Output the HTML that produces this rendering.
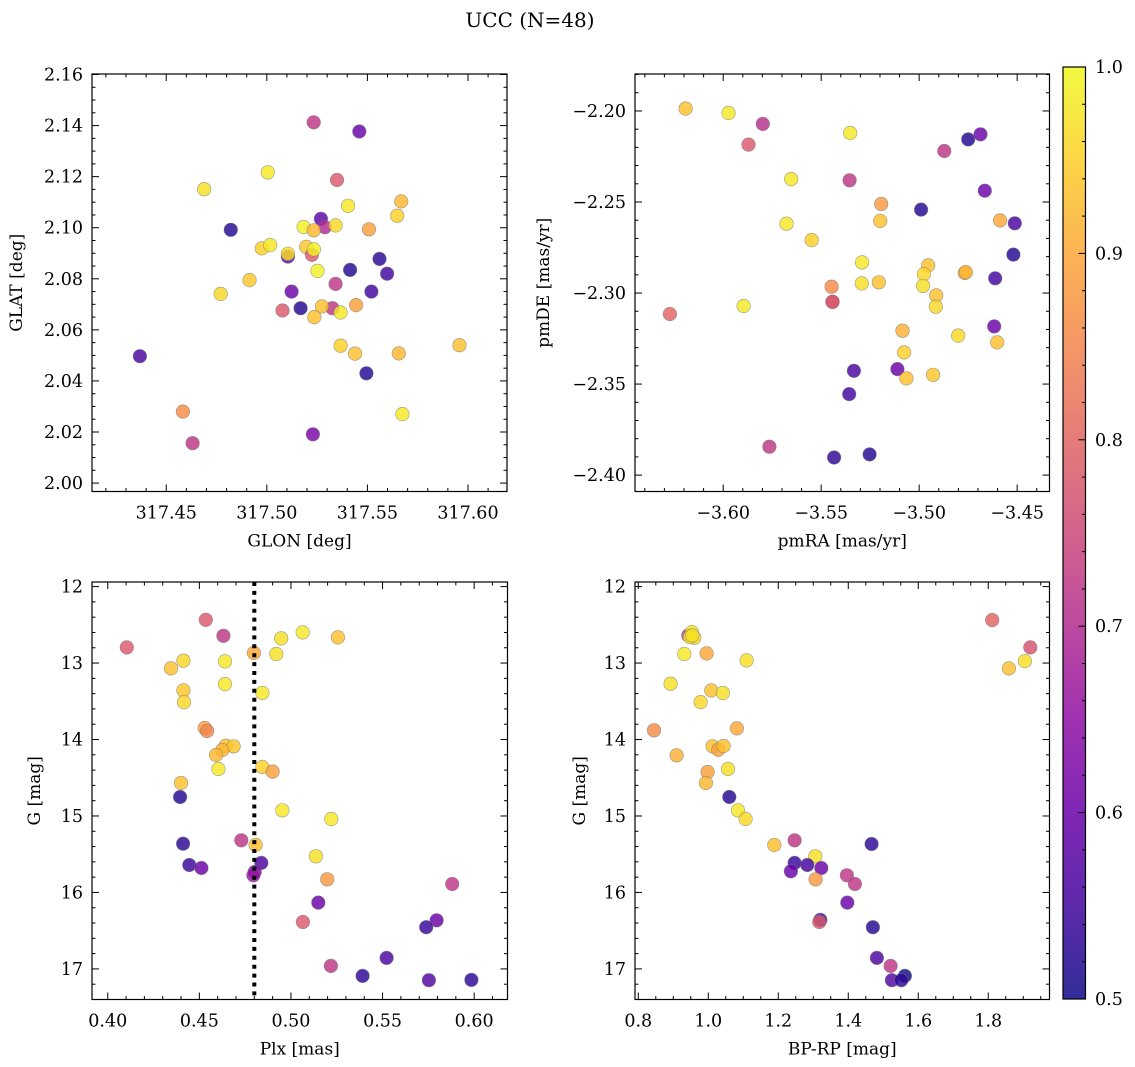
<!DOCTYPE html>
<html><head><meta charset="utf-8">
<style>
html,body{margin:0;padding:0;background:#fff;}
svg{display:block;font-family:"DejaVu Serif","Liberation Serif",serif;}
</style></head>
<body>
<svg id="fig" width="1135" height="1067" viewBox="0 0 1135 1067" xmlns="http://www.w3.org/2000/svg">
<defs>
<linearGradient id="plasma" x1="0" y1="1" x2="0" y2="0">
<stop offset="0" stop-color="#0d0887"/><stop offset="0.1" stop-color="#41049d"/><stop offset="0.2" stop-color="#6a00a8"/><stop offset="0.3" stop-color="#8f0da4"/><stop offset="0.4" stop-color="#b12a90"/><stop offset="0.5" stop-color="#cc4778"/><stop offset="0.6" stop-color="#e16462"/><stop offset="0.7" stop-color="#f2844b"/><stop offset="0.8" stop-color="#fca636"/><stop offset="0.9" stop-color="#fcce25"/><stop offset="1" stop-color="#f0f921"/>
</linearGradient>
</defs>
<text x="530" y="27" font-size="20" text-anchor="middle">UCC (N=48)</text>
</svg>
<script>
// ---- Panel 1: GLON vs GLAT ----
const glon = [317.5233,317.5460,317.5005,317.5349,317.4689,317.5668,317.5404,317.5648,317.5269,317.5289,317.5183,317.5342,317.5233,317.4821,317.5508,317.4975,317.5017,317.5105,317.5105,317.5196,317.5224,317.5234,317.5560,317.5414,317.5252,317.5598,317.4914,317.5342,317.5123,317.5520,317.4771,317.5078,317.5168,317.5326,317.5274,317.5444,317.5367,317.5236,317.5367,317.5439,317.5656,317.5958,317.4369,317.5495,317.4583,317.5674,317.5229,317.4631];
const glat = [2.1413,2.1377,2.1217,2.1187,2.1151,2.1103,2.1086,2.1047,2.1035,2.1002,2.1003,2.1009,2.0990,2.0992,2.0994,2.0919,2.0932,2.0887,2.0898,2.0925,2.0894,2.0915,2.0878,2.0835,2.0831,2.0820,2.0795,2.0780,2.0750,2.0750,2.0741,2.0676,2.0685,2.0685,2.0692,2.0697,2.0668,2.0650,2.0538,2.0507,2.0508,2.0540,2.0497,2.0430,2.0280,2.0270,2.0191,2.0156];
const prob1 = [0.72,0.60,0.98,0.78,0.97,0.92,0.98,0.95,0.58,0.70,0.99,0.96,0.92,0.52,0.89,0.95,0.98,0.58,0.97,0.94,0.78,0.99,0.53,0.52,0.99,0.55,0.94,0.72,0.60,0.55,0.96,0.78,0.52,0.72,0.93,0.89,0.98,0.93,0.95,0.93,0.92,0.93,0.56,0.52,0.86,0.98,0.62,0.72];
// ---- Panel 2: pmRA vs pmDE ----
const pmra = [-3.6192,-3.5973,-3.5798,-3.5871,-3.5352,-3.4750,-3.4687,-3.4872,-3.5653,-3.5355,-3.4665,-3.5194,-3.4990,-3.5199,-3.4587,-3.4512,-3.5677,-3.5549,-3.4519,-3.5291,-3.4954,-3.4976,-3.4767,-3.4762,-3.4612,-3.5447,-3.5293,-3.5206,-3.4980,-3.4913,-3.5442,-3.5442,-3.5896,-3.4915,-3.6272,-3.5085,-3.4617,-3.4801,-3.4602,-3.5077,-3.5333,-3.5111,-3.5065,-3.4929,-3.5357,-3.5764,-3.5434,-3.5253];
const pmde = [-2.1987,-2.2011,-2.2071,-2.2185,-2.2121,-2.2156,-2.2128,-2.2220,-2.2374,-2.2381,-2.2438,-2.2511,-2.2542,-2.2604,-2.2601,-2.2617,-2.2619,-2.2709,-2.2789,-2.2832,-2.2848,-2.2896,-2.2890,-2.2885,-2.2919,-2.2965,-2.2947,-2.2941,-2.2960,-2.3013,-2.3048,-2.3048,-2.3071,-2.3075,-2.3115,-2.3207,-2.3183,-2.3234,-2.3271,-2.3326,-2.3427,-2.3418,-2.3469,-2.3449,-2.3555,-2.3844,-2.3903,-2.3886];
const prob2 = [0.93,0.98,0.71,0.78,0.98,0.52,0.60,0.72,0.98,0.72,0.60,0.88,0.52,0.93,0.90,0.56,0.98,0.95,0.52,0.98,0.93,0.96,0.90,0.92,0.55,0.86,0.97,0.93,0.97,0.93,0.76,0.78,0.98,0.96,0.80,0.91,0.60,0.96,0.93,0.95,0.56,0.60,0.93,0.94,0.55,0.72,0.53,0.52];
// ---- Panel 3: Plx vs G ----
const plx = [0.4535,0.4631,0.4104,0.4947,0.5064,0.5256,0.4798,0.4920,0.4413,0.4345,0.4640,0.4640,0.4413,0.4416,0.4844,0.4529,0.4542,0.4645,0.4687,0.4625,0.4591,0.4844,0.4900,0.4604,0.4400,0.4395,0.4953,0.5220,0.4729,0.4807,0.4411,0.4838,0.4445,0.4511,0.5136,0.4802,0.4795,0.5198,0.5880,0.5149,0.5065,0.5795,0.5738,0.5522,0.5218,0.5391,0.5753,0.5985];
const gmag3 = [12.434,12.643,12.795,12.678,12.599,12.664,12.869,12.882,12.969,13.070,12.978,13.275,13.357,13.510,13.392,13.850,13.889,14.081,14.089,14.137,14.203,14.359,14.420,14.386,14.569,14.752,14.926,15.039,15.318,15.379,15.362,15.614,15.641,15.680,15.527,15.732,15.776,15.828,15.889,16.133,16.386,16.364,16.455,16.856,16.961,17.092,17.148,17.144];
const prob3 = [0.78,0.72,0.78,0.97,0.98,0.93,0.90,0.97,0.96,0.93,0.98,0.98,0.94,0.96,0.98,0.89,0.85,0.93,0.94,0.92,0.92,0.95,0.89,0.98,0.93,0.52,0.98,0.98,0.72,0.93,0.53,0.56,0.54,0.60,0.97,0.62,0.66,0.88,0.72,0.60,0.78,0.60,0.54,0.56,0.72,0.53,0.57,0.53];
const plxCut = [0.48];
// ---- Panel 4: BP-RP vs G ----
const bprp = [1.8114,1.9200,1.9048,1.8590,0.9429,0.9533,0.9600,0.9476,0.9314,0.9952,1.1095,0.8924,1.0086,1.0419,0.9781,0.8448,1.0819,0.9095,1.0124,1.0286,1.0438,0.9981,1.0562,0.9933,1.0600,1.0848,1.1067,1.1886,1.2467,1.4667,1.3057,1.2467,1.2829,1.3229,1.2362,1.3067,1.3962,1.4190,1.3971,1.3200,1.3171,1.4705,1.4819,1.5210,1.5619,1.5248,1.5514,0.9543];
const gmag4 = [12.438,12.795,12.974,13.070,12.638,12.595,12.669,12.660,12.882,12.874,12.965,13.270,13.357,13.392,13.510,13.880,13.854,14.207,14.089,14.133,14.085,14.425,14.386,14.569,14.752,14.926,15.039,15.379,15.318,15.366,15.527,15.614,15.641,15.680,15.723,15.828,15.776,15.889,16.133,16.359,16.386,16.455,16.856,16.961,17.092,17.148,17.148,12.638];
const prob4 = [0.80,0.77,0.97,0.93,0.72,0.98,0.96,0.98,0.98,0.90,0.97,0.97,0.93,0.97,0.96,0.86,0.90,0.91,0.93,0.89,0.93,0.89,0.97,0.92,0.52,0.98,0.96,0.93,0.72,0.53,0.97,0.54,0.55,0.60,0.60,0.88,0.72,0.72,0.60,0.54,0.78,0.52,0.56,0.72,0.50,0.57,0.53,0.97];
// ---- colorbar ----
const cbarTicks = [0.5,0.6,0.7,0.8,0.9,1.0];
const cbarTickLabels = ["0.5","0.6","0.7","0.8","0.9","1.0"];

const NS = "http://www.w3.org/2000/svg";
const svg = document.getElementById("fig");
function mk(tag, attrs, parent){ const e=document.createElementNS(NS,tag); for(const k in attrs) e.setAttribute(k,attrs[k]); (parent||svg).appendChild(e); return e; }

const stops=[[0,[13,8,135]],[0.1,[65,4,157]],[0.2,[106,0,168]],[0.3,[143,13,164]],[0.4,[177,42,144]],[0.5,[204,71,120]],[0.6,[225,100,98]],[0.7,[242,132,75]],[0.8,[252,166,54]],[0.9,[252,206,37]],[1,[240,249,33]]];
function plasma(v){ let t=(v-0.5)/0.5; t=Math.max(0,Math.min(1,t));
  for(let i=0;i<stops.length-1;i++){ const a=stops[i],b=stops[i+1]; if(t<=b[0]){ const f=(t-a[0])/(b[0]-a[0]); const c=a[1].map((x,j)=>Math.round(x+(b[1][j]-x)*f)); return `rgb(${c[0]},${c[1]},${c[2]})`; } }
  return "rgb(240,249,33)"; }
function fmt(v,d){ const s=Math.abs(v).toFixed(d); return (v<-1e-9?"\u2212":"")+s; }

function panel(cfg){
  const {name,x0,x1,y0,y1,xd,yd,xMaj,xMin,yMaj,yMin,xDec,yDec,xs,ys,ps,xlabel,ylabel,ylx}=cfg;
  const sx=v=>x0+(v-xd[0])/(xd[1]-xd[0])*(x1-x0);
  const sy=v=>y1-(v-yd[0])/(yd[1]-yd[0])*(y1-y0);
  const g=mk("g",{});
  
  
  const pts=mk("g",{},g);
  
  
  for(let i=0;i<xs.length;i++){
    const c=mk("circle",{cx:sx(xs[i]).toFixed(1),cy:sy(ys[i]).toFixed(1),r:6.8,fill:plasma(ps[i]),"fill-opacity":0.82,stroke:"#777","stroke-opacity":0.7,"stroke-width":0.6},pts);
    
    
  }
  if(cfg.vline!==undefined){
    const l=mk("line",{x1:sx(cfg.vline),x2:sx(cfg.vline),y1:y0,y2:y1,stroke:"#000","stroke-width":4,"stroke-dasharray":"4 4.9"},g);
    
    
  }
  const fr=mk("rect",{x:x0,y:y0,width:x1-x0,height:y1-y0,fill:"none",stroke:"#000","stroke-width":1.2},g);
  
  
  const ax=mk("g",{stroke:"#000","stroke-width":1},g);
  
  
  const eps=1e-7;
  for(let v=Math.ceil(Math.min(...xd)/xMin-eps)*xMin; v<=Math.max(...xd)+eps; v+=xMin){
    const X=sx(v); const isMaj=Math.abs(v/xMaj-Math.round(v/xMaj))<1e-3; const L=isMaj?7:3.5;
    mk("line",{x1:X,x2:X,y1:y1,y2:y1-L},ax); mk("line",{x1:X,x2:X,y1:y0,y2:y0+L},ax);
    if(isMaj){ const t=mk("text",{x:X,y:y1+27,"font-size":17.5,"text-anchor":"middle",stroke:"none",fill:"#000"},g); t.textContent=fmt(v,xDec);
      
       }
  }
  const ylo=Math.min(...yd), yhi=Math.max(...yd);
  for(let v=Math.ceil(ylo/yMin-eps)*yMin; v<=yhi+eps; v+=yMin){
    const Y=sy(v); const isMaj=Math.abs(v/yMaj-Math.round(v/yMaj))<1e-3; const L=isMaj?7:3.5;
    mk("line",{x1:x0,x2:x0+L,y1:Y,y2:Y},ax); mk("line",{x1:x1,x2:x1-L,y1:Y,y2:Y},ax);
    if(isMaj){ const t=mk("text",{x:x0-9,y:Y+6,"font-size":17.5,"text-anchor":"end",stroke:"none",fill:"#000"},g); t.textContent=fmt(v,yDec);
      
       }
  }
  const xl=mk("text",{x:(x0+x1)/2,y:y1+55,"font-size":17,"text-anchor":"middle"},g); xl.textContent=xlabel;
  
  
  const yl=mk("text",{x:ylx,y:(y0+y1)/2,"font-size":17,"text-anchor":"middle",transform:`rotate(-90 ${ylx} ${(y0+y1)/2})`},g); yl.textContent=ylabel;
  
  
}

panel({name:"glon-glat-panel",x0:92,x1:507,y0:74,y1:491.5,xd:[317.4131,317.6194],yd:[1.9967,2.1602],xMaj:0.05,xMin:0.01,yMaj:0.02,yMin:0.005,xDec:2,yDec:2,xs:glon,ys:glat,ps:prob1,xlabel:"GLON [deg]",ylabel:"GLAT [deg]",ylx:22});
panel({name:"pm-panel",x0:635,x1:1049.5,y0:74,y1:491.5,xd:[-3.645,-3.4335],yd:[-2.409,-2.1797],xMaj:0.05,xMin:0.01,yMaj:0.05,yMin:0.01,xDec:2,yDec:2,xs:pmra,ys:pmde,ps:prob2,xlabel:"pmRA [mas/yr]",ylabel:"pmDE [mas/yr]",ylx:549});
panel({name:"plx-g-panel",x0:92,x1:507.5,y0:582,y1:999.5,xd:[0.3914,0.6182],yd:[17.40,11.94],xMaj:0.05,xMin:0.01,yMaj:1,yMin:0.2,xDec:2,yDec:0,xs:plx,ys:gmag3,ps:prob3,xlabel:"Plx [mas]",ylabel:"G [mag]",ylx:40,vline:plxCut[0]});
panel({name:"cmd-panel",x0:635,x1:1049.5,y0:582,y1:999.5,xd:[0.7906,1.975],yd:[17.40,11.94],xMaj:0.2,xMin:0.05,yMaj:1,yMin:0.2,xDec:1,yDec:0,xs:bprp,ys:gmag4,ps:prob4,xlabel:"BP-RP [mag]",ylabel:"G [mag]",ylx:585});

// colorbar
const cb=mk("g",{});


const cx0=1063,cx1=1085.5,cy0=67,cy1=999;
const cr=mk("rect",{x:cx0,y:cy0,width:cx1-cx0,height:cy1-cy0,fill:"url(#plasma)","fill-opacity":0.85},cb);


mk("rect",{x:cx0,y:cy0,width:cx1-cx0,height:cy1-cy0,fill:"none",stroke:"#000","stroke-width":1.2},cb);
const cy=v=>cy1-(v-0.5)/0.5*(cy1-cy0);
for(let k=0;k<=25;k++){ const v=0.5+k*0.02; const Y=cy(v); const maj=(k%5===0);
  mk("line",{x1:cx1,x2:cx1-(maj?7:3.5),y1:Y,y2:Y,stroke:"#000","stroke-width":1},cb); }
cbarTicks.forEach((v,i)=>{ const t=mk("text",{x:1095,y:cy(v)+6,"font-size":17.5},cb); t.textContent=cbarTickLabels[i];
  
   });
</script>
</body></html>
